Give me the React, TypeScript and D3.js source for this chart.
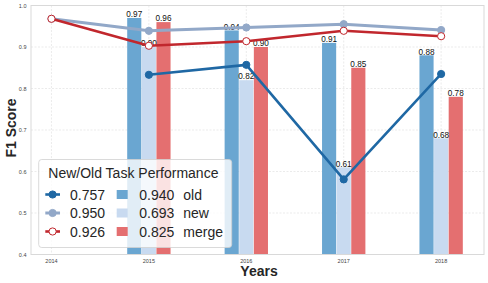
import React, { useEffect, useRef } from "react";
import * as d3 from "d3";

// data
const lineYears = [2014, 2015, 2016, 2017, 2018];
const barYears = [2015, 2016, 2017, 2018];
const darkLine = [0.833, 0.857, 0.581, 0.835]; // 2015-2018
const lightLine = [0.968, 0.939, 0.947, 0.955, 0.941];
const redLine = [0.968, 0.903, 0.914, 0.939, 0.926];
const oldBars = [0.97, 0.94, 0.91, 0.88];
const newBars = [0.9, 0.82, 0.61, 0.68];
const mergeBars = [0.96, 0.9, 0.85, 0.78];
const legendLines = ["0.757", "0.950", "0.926"];
const legendBars = ["0.940", "0.693", "0.825"];
const legendNames = ["old", "new", "merge"];
const yTicks = [0.4, 0.5, 0.6, 0.7, 0.8, 0.9, 1.0];

const W = 488;
const H = 283;
const FONT = "'Liberation Sans', Arial, sans-serif";

const C_DARK = "#1f68a4";
const C_LIGHT = "#92a8c8";
const C_RED = "#c1272d";
const C_OLD = "#6aa6d1";
const C_NEW = "#c8daf0";
const C_MERGE = "#e46f70";

export default function App() {
  const ref = useRef<SVGSVGElement>(null);

  useEffect(() => {
    const svg = d3.select(ref.current);
    svg.selectAll("*").remove();

    const left = 31, right = 484, top = 5.5, bottom = 254.5;
    const x = d3.scaleLinear().domain([2013.79, 2018.44]).range([left, right]);
    const y = d3.scaleLinear().domain([0.4, 1.0]).range([bottom, top]);
    const bw = 0.145;
    const off = 0.15;

    svg.append("rect").attr("width", W).attr("height", H).attr("fill", "white");

    const clip = svg.append("defs").append("clipPath").attr("id", "plot");
    clip.append("rect").attr("x", left).attr("y", top)
      .attr("width", right - left).attr("height", bottom - top);

    // grid
    const grid = svg.append("g");
    grid.selectAll("line.h").data(yTicks).enter().append("line")
      .attr("x1", left).attr("x2", right)
      .attr("y1", (d) => y(d)).attr("y2", (d) => y(d))
      .attr("stroke", "#e6e6e6").attr("stroke-width", 0.8).attr("stroke-dasharray", "2,1.5");
    grid.selectAll("line.v").data(lineYears).enter().append("line")
      .attr("y1", top).attr("y2", bottom)
      .attr("x1", (d) => x(d)).attr("x2", (d) => x(d))
      .attr("stroke", "#e6e6e6").attr("stroke-width", 0.8).attr("stroke-dasharray", "2,1.5");

    // tick labels
    svg.append("g").selectAll("text").data(yTicks).enter().append("text")
      .attr("x", 26.5).attr("y", (d) => y(d) + 2)
      .attr("text-anchor", "end").attr("font-size", "5.5px").attr("font-family", FONT)
      .attr("fill", "#444").text((d) => d.toFixed(1));
    svg.append("g").selectAll("text").data(lineYears).enter().append("text")
      .attr("x", (d) => x(d)).attr("y", 263)
      .attr("text-anchor", "middle").attr("font-size", "5.5px").attr("font-family", FONT)
      .attr("fill", "#444").text((d) => d);

    // bars
    const plot = svg.append("g").attr("clip-path", "url(#plot)");
    const series = [
      { vals: oldBars, dx: -off, color: C_OLD },
      { vals: newBars, dx: 0, color: C_NEW },
      { vals: mergeBars, dx: off, color: C_MERGE },
    ];
    series.forEach((s) => {
      plot.append("g").selectAll("rect").data(s.vals).enter().append("rect")
        .attr("x", (d, i) => x(barYears[i] + s.dx - bw / 2))
        .attr("width", x(bw) - x(0))
        .attr("y", (d) => y(d))
        .attr("height", (d) => bottom - y(d))
        .attr("fill", s.color);
    });

    // bar labels
    series.forEach((s) => {
      svg.append("g").selectAll("text").data(s.vals).enter().append("text")
        .attr("x", (d, i) => x(barYears[i] + s.dx))
        .attr("y", (d) => y(d) - 0.8)
        .attr("text-anchor", "middle").attr("font-size", "8.2px").attr("font-family", FONT)
        .attr("fill", "#111").text((d) => d.toFixed(2));
    });

    // lines
    const lineGen = d3.line<[number, number]>().x((d) => x(d[0])).y((d) => y(d[1]));
    const dark = { yrs: barYears, vals: darkLine, color: C_DARK, fill: C_DARK, w: 2.6 };
    const light = { yrs: lineYears, vals: lightLine, color: C_LIGHT, fill: C_LIGHT, w: 3 };
    const red = { yrs: lineYears, vals: redLine, color: C_RED, fill: "white", w: 2.6 };
    [light, red, dark].forEach((l) => {
      const pts = l.vals.map((v, i) => [l.yrs[i], v] as [number, number]);
      svg.append("path").datum(pts).attr("d", lineGen)
        .attr("fill", "none").attr("stroke", l.color).attr("stroke-width", l.w)
        .attr("stroke-linejoin", "round");
      svg.append("g").selectAll("circle").data(pts).enter().append("circle")
        .attr("cx", (d) => x(d[0])).attr("cy", (d) => y(d[1])).attr("r", 3.6)
        .attr("fill", l.fill).attr("stroke", l.color).attr("stroke-width", 1);
    });

    // frame
    svg.append("rect").attr("x", left).attr("y", top)
      .attr("width", right - left).attr("height", bottom - top)
      .attr("fill", "none").attr("stroke", "#d9d9d9").attr("stroke-width", 1);

    // axis titles
    svg.append("text").attr("x", (left + right) / 2 + 1.5).attr("y", 276)
      .attr("text-anchor", "middle").attr("font-size", "14px").attr("font-weight", "bold")
      .attr("font-family", FONT).attr("fill", "#262626").text("Years");
    svg.append("text").attr("transform", `translate(16,${(top + bottom) / 2 - 2}) rotate(-90)`)
      .attr("text-anchor", "middle").attr("font-size", "14px").attr("font-weight", "bold")
      .attr("font-family", FONT).attr("fill", "#262626").text("F1 Score");

    // legend
    const lg = svg.append("g");
    lg.append("rect").attr("x", 38.7).attr("y", 159.5).attr("width", 193).attr("height", 88)
      .attr("rx", 3).attr("fill", "white").attr("fill-opacity", 0.8)
      .attr("stroke", "#d0d0d0").attr("stroke-width", 0.8);
    lg.append("text").attr("x", 48.3).attr("y", 178).attr("font-size", "14px")
      .attr("font-family", FONT).attr("fill", "#262626").text("New/Old Task Performance");
    const rowY = [194.5, 213, 231.5];
    const lineStyles = [dark, light, red];
    rowY.forEach((ry, i) => {
      const l = lineStyles[i];
      lg.append("line").attr("x1", 45.3).attr("x2", 60).attr("y1", ry).attr("y2", ry)
        .attr("stroke", l.color).attr("stroke-width", l.w);
      lg.append("circle").attr("cx", 52.6).attr("cy", ry).attr("r", 3.6)
        .attr("fill", l.fill).attr("stroke", l.color).attr("stroke-width", 1);
      lg.append("text").attr("x", 70).attr("y", ry + 5).attr("font-size", "14px")
        .attr("font-family", FONT).attr("fill", "#262626").text(legendLines[i]);
      lg.append("rect").attr("x", 116.7).attr("y", ry - 4.5).attr("width", 11).attr("height", 9)
        .attr("fill", series[i].color);
      lg.append("text").attr("x", 139.3).attr("y", ry + 5).attr("font-size", "14px")
        .attr("font-family", FONT).attr("fill", "#262626").text(legendBars[i]);
      lg.append("text").attr("x", 183.3).attr("y", ry + 5).attr("font-size", "14px")
        .attr("font-family", FONT).attr("fill", "#262626").text(legendNames[i]);
    });
  }, []);

  return (
    <svg ref={ref} width={W} height={H}
      style={{ position: "absolute", left: 0, top: 0, display: "block" }} />
  );
}
